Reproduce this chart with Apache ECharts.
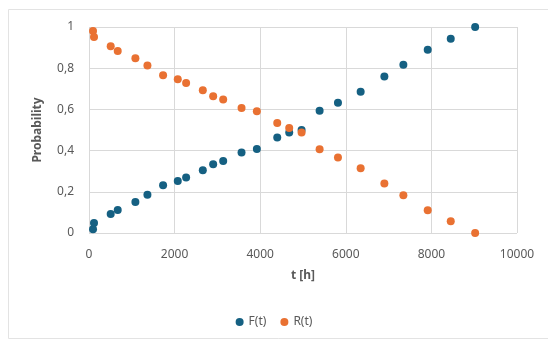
<!DOCTYPE html>
<html>
<head>
<meta charset="utf-8">
<script src="https://cdn.jsdelivr.net/npm/echarts@6/dist/echarts.min.js"></script>
<style>
  html, body { margin: 0; padding: 0; background: #ffffff; }
  #chart { width: 548px; height: 341px; }
</style>
</head>
<body>
<div id="chart"></div>
<script>
// Operating time in hours for each observation
const tHours = [94, 117, 507, 671, 1084, 1365, 1731, 2074, 2269, 2659, 2901, 3135,
  3564, 3922, 4398, 4678, 4967, 5388, 5817, 6347, 6901, 7345, 7914, 8452, 9022];

// Cumulative failure probability F(t)
const fValues = [0.018, 0.049, 0.092, 0.112, 0.150, 0.186, 0.232, 0.252, 0.270, 0.305,
  0.334, 0.350, 0.391, 0.408, 0.464, 0.488, 0.500, 0.593, 0.632, 0.686, 0.760,
  0.817, 0.889, 0.943, 1.000];

// Reliability R(t)
const rValues = [0.981, 0.951, 0.907, 0.884, 0.848, 0.813, 0.766, 0.746, 0.728, 0.693,
  0.664, 0.648, 0.607, 0.591, 0.534, 0.510, 0.488, 0.407, 0.367, 0.314, 0.240,
  0.183, 0.110, 0.057, 0.000];

const xTicks = [0, 2000, 4000, 6000, 8000, 10000];

const pairs = (xs, ys) => xs.map((x, i) => [x, ys[i]]);

const fontFamily = '"Noto Sans", "Liberation Sans", sans-serif';
const textColor = '#595959';
const gridColor = '#d9d9d9';

const chart = echarts.init(document.getElementById('chart'), null, { renderer: 'canvas' });

chart.setOption({
  animation: false,
  backgroundColor: '#ffffff',
  textStyle: { fontFamily: fontFamily },
  graphic: [{
    type: 'rect',
    shape: { x: 8.5, y: 9.5, width: 545, height: 329 },
    style: { fill: null, stroke: '#e3e3e3', lineWidth: 1 },
    silent: true,
    z: -1
  }],
  grid: { left: 89, right: 31, top: 27, bottom: 108, containLabel: false },
  xAxis: {
    type: 'value',
    min: xTicks[0],
    max: xTicks[xTicks.length - 1],
    interval: 2000,
    name: 't [h]',
    nameLocation: 'middle',
    nameGap: 37,
    nameTextStyle: { color: textColor, fontSize: 12, fontWeight: 'bold', fontFamily: fontFamily },
    axisLine: { show: false },
    axisTick: { show: false },
    axisLabel: { color: textColor, fontSize: 12, margin: 16, formatter: v => String(v) },
    splitLine: { show: true, lineStyle: { color: gridColor, width: 1 } }
  },
  yAxis: {
    type: 'value',
    min: 0,
    max: 1,
    interval: 0.2,
    name: 'Probability',
    nameLocation: 'middle',
    nameGap: 45,
    nameTextStyle: { color: textColor, fontSize: 12, fontWeight: 'bold', fontFamily: fontFamily },
    axisLine: { show: false },
    axisTick: { show: false },
    axisLabel: {
      color: textColor,
      fontSize: 12,
      margin: 15,
      formatter: v => (Math.round(v * 10) / 10).toString().replace('.', ',')
    },
    splitLine: { show: true, lineStyle: { color: gridColor, width: 1 } }
  },
  legend: {
    bottom: 8,
    left: 'center',
    itemWidth: 8,
    itemHeight: 8,
    itemGap: 14,
    icon: 'circle',
    textStyle: { color: textColor, fontSize: 12, fontFamily: fontFamily },
    data: ['F(t)', 'R(t)']
  },
  series: [
    {
      name: 'F(t)',
      type: 'scatter',
      symbol: 'circle',
      symbolSize: 8,
      itemStyle: { color: '#156082', opacity: 1 },
      data: pairs(tHours, fValues)
    },
    {
      name: 'R(t)',
      type: 'scatter',
      symbol: 'circle',
      symbolSize: 8,
      itemStyle: { color: '#E97132', opacity: 1 },
      data: pairs(tHours, rValues)
    }
  ]
});
</script>
</body>
</html>
